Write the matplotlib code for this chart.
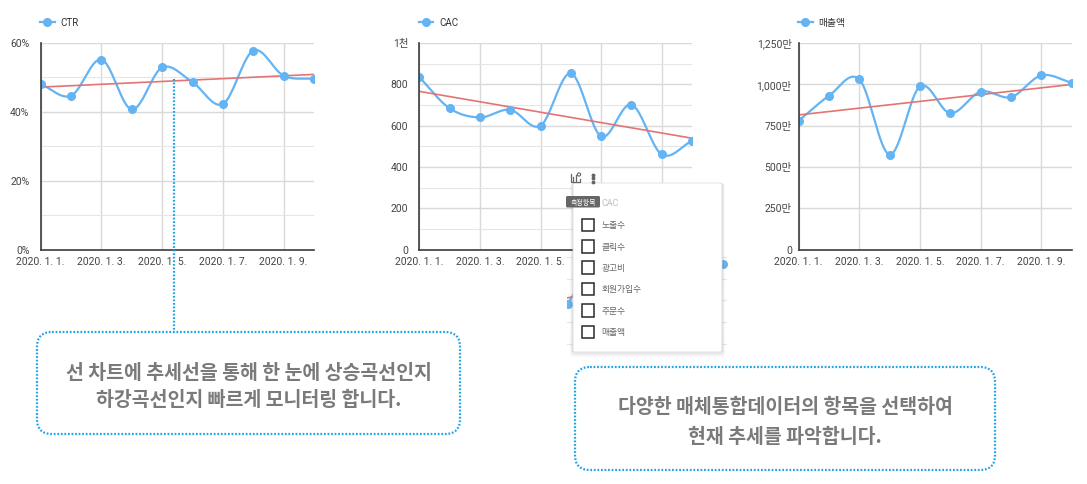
import numpy as np
import matplotlib
matplotlib.use('Agg')
import matplotlib.pyplot as plt
from matplotlib.patches import FancyBboxPatch, Rectangle, Circle
from matplotlib.lines import Line2D
from matplotlib.transforms import Affine2D
from matplotlib.ticker import FuncFormatter

W, H = 1087, 485

# ---------------- data ----------------
dates = ['2020. 1. 1.', '2020. 1. 2.', '2020. 1. 3.', '2020. 1. 4.', '2020. 1. 5.',
         '2020. 1. 6.', '2020. 1. 7.', '2020. 1. 8.', '2020. 1. 9.', '2020. 1. 10.']
ctr = [48.1, 44.7, 55.2, 40.7, 52.9, 48.6, 42.3, 57.8, 50.5, 49.6]          # %
cac = [835, 684, 640, 677, 600, 853, 548, 702, 461, 527]                    # 원
revenue = [780, 931, 1030, 575, 988, 825, 956, 923, 1054, 1010]             # 만원
metric_options = ['노출수', '클릭수', '광고비', '회원가입수', '주문수', '매출액']
callout1 = ['선 차트에 추세선을 통해 한 눈에 상승곡선인지', '하강곡선인지 빠르게 모니터링 합니다.']
callout2 = ['다양한 매체통합데이터의 항목을 선택하여', '현재 추세를 파악합니다.']

LINE_C = '#64b4f4'
TREND_C = '#e57373'
GRID_C = '#d9d9d9'
GRID_MINOR_C = '#e6e6e6'
DOT_C = '#1ea4e6'
TICK_FONT = ['Roboto', 'Noto Sans CJK KR', 'DejaVu Sans']
KR_FONT = ['Noto Sans CJK KR', 'DejaVu Sans']

fig = plt.figure(figsize=(W / 100, H / 100), dpi=100)
px = Affine2D().scale(1 / W, -1 / H).translate(0, 1) + fig.transFigure


def ax_px(l, t, r, b, **kw):
    return fig.add_axes([l / W, 1 - b / H, (r - l) / W, (b - t) / H], **kw)


def catmull(y, n=40):
    y = np.asarray(y, float)
    P = np.concatenate([[2 * y[0] - y[1]], y, [2 * y[-1] - y[-2]]])
    xs, ys = [], []
    t = np.linspace(0, 1, n, endpoint=False)
    for i in range(len(y) - 1):
        p0, p1, p2, p3 = P[i:i + 4]
        yy = 0.5 * (2 * p1 + (-p0 + p2) * t + (2 * p0 - 5 * p1 + 4 * p2 - p3) * t ** 2
                    + (-p0 + 3 * p1 - 3 * p2 + p3) * t ** 3)
        xs.append(i + t)
        ys.append(yy)
    xs.append([len(y) - 1])
    ys.append([y[-1]])
    return np.concatenate(xs), np.concatenate(ys)


def draw_chart(ax, values, name, ymax, major, minor, fmt, ypad, hidden_xlabels=()):
    x = np.arange(len(values))
    sx, sy = catmull(values)
    ax.plot(sx, sy, color=LINE_C, lw=1.6, zorder=3, solid_capstyle='round')
    ax.plot(x, values, 'o', color=LINE_C, ms=5.5, zorder=4)
    k, b = np.polyfit(x, values, 1)
    ax.plot([x[0], x[-1]], [b, k * x[-1] + b], color=TREND_C, lw=1.2, zorder=3.5)
    ax.set_xlim(0, len(values) - 1)
    ax.set_ylim(0, ymax)
    ax.set_yticks(np.arange(0, ymax + 1e-9, major))
    if minor:
        ax.set_yticks(np.arange(minor, ymax, major), minor=True)
    ax.yaxis.set_major_formatter(FuncFormatter(fmt))
    ax.set_xticks(x[::2])
    ax.set_xticklabels([dates[i] for i in x[::2]])
    ax.grid(which='major', axis='both', color=GRID_C, lw=1.0, zorder=0)
    ax.grid(which='minor', axis='y', color=GRID_MINOR_C, lw=0.8, zorder=0)
    ax.set_axisbelow(True)
    for s in ('top', 'right'):
        ax.spines[s].set_visible(False)
    for s in ('left', 'bottom'):
        ax.spines[s].set_color('#3c3c3c')
        ax.spines[s].set_linewidth(1.2)
        ax.spines[s].set_zorder(5)
    ax.tick_params(which='both', length=0, labelsize=7.5, labelcolor='#444444')
    ax.tick_params(axis='y', pad=ypad)
    ax.tick_params(axis='x', pad=4.5)
    for lab in ax.get_xticklabels() + ax.get_yticklabels():
        lab.set_family(TICK_FONT)
    for lab in ax.get_yticklabels():
        lab.set_verticalalignment('center')
    for i, lab in enumerate(ax.get_xticklabels()):
        if i in hidden_xlabels:
            lab.set_visible(False)
    h = Line2D([], [], color=LINE_C, lw=1.6, marker='o', ms=5.5)
    leg = ax.legend([h], [name], loc='lower left', bbox_to_anchor=(-0.002, 1.075),
                    frameon=False, borderpad=0, borderaxespad=0, handlelength=1.5,
                    handletextpad=0.6, prop={'family': TICK_FONT, 'size': 7})
    for t in leg.get_texts():
        t.set_color('#333333')


# ---------------- three charts ----------------
ax1 = ax_px(40.7, 44, 314, 250.7)
draw_chart(ax1, ctr, 'CTR', 60, 20, 10, lambda v, p: f'{v:.0f}%', 8)

ax2 = ax_px(419.3, 44, 692, 250.7)
# the labels for 1.7 and 1.9 lie under the popup
draw_chart(ax2, cac, 'CAC', 1000, 200, 100,
           lambda v, p: '1천' if v >= 1000 else f'{v:.0f}', 8, hidden_xlabels=(3, 4))

ax3 = ax_px(798.7, 44, 1071.7, 250.7)
draw_chart(ax3, revenue, '매출액', 1250, 250, 0,
           lambda v, p: '0' if v == 0 else f'{v:,.0f}만', 5)

# chart partially hidden behind the popup
axb = ax_px(567, 255, 727, 353)
axb.set_facecolor('none')
bx = np.arange(len(revenue))
sx, sy = catmull(revenue)
axb.plot(sx, sy, color=LINE_C, lw=1.6)
axb.plot(bx, revenue, 'o', color=LINE_C, ms=5.5)
k, b = np.polyfit(bx, revenue, 1)
axb.plot([0, 9], [b, 9 * k + b], color=TREND_C, lw=1.2)
axb.set_xlim(-0.03, 9.25)
axb.set_ylim(504, 1067)
axb.set_yticks(np.arange(550, 1067, 125))
axb.grid(axis='y', color=GRID_MINOR_C, lw=0.8)
axb.set_xticks([])
axb.tick_params(length=0, labelleft=False)
for s in axb.spines.values():
    s.set_visible(False)

# ---------------- popup ----------------
for i, a in enumerate([0.10, 0.07, 0.04]):
    fig.add_artist(FancyBboxPatch((573 - i, 184 + 1), 149 + 2 * i, 169 + 1.5 * i,
                                  boxstyle='round,pad=0,rounding_size=2',
                                  transform=px, facecolor='none',
                                  edgecolor=(0, 0, 0, a), lw=1.0, zorder=9))
fig.add_artist(FancyBboxPatch((573, 184), 149, 169, boxstyle='round,pad=0,rounding_size=2',
                              transform=px, facecolor='white', edgecolor='#dcdcdc',
                              lw=0.6, zorder=10))
# icons above popup (chart-settings icon and kebab menu)
ICON_C = '#666666'
fig.add_artist(Line2D([570.5, 570.5, 580, 580], [174.5, 183, 183, 179.5], transform=px,
                      color=ICON_C, lw=0.9, zorder=11))
fig.add_artist(Line2D([573, 573], [182, 178], transform=px, color=ICON_C, lw=0.9, zorder=11))
fig.add_artist(Line2D([575.5, 575.5], [182, 176], transform=px, color=ICON_C, lw=0.9, zorder=11))
fig.add_artist(Circle((579, 175.5), 1.6, transform=px, facecolor='none', edgecolor=ICON_C,
                      lw=0.8, zorder=11))
for yy in (175.5, 179, 182.5):
    fig.add_artist(Line2D([593], [yy], transform=px, marker='o', ms=1.8, color=ICON_C,
                          zorder=11))
# tooltip and current metric
fig.add_artist(FancyBboxPatch((566, 197), 34, 11.5, boxstyle='round,pad=0,rounding_size=1.5',
                              transform=px, facecolor='#666666', edgecolor='none', zorder=12))
fig.text(583, 202.8, '측정항목', transform=px, ha='center', va='center', color='white',
         fontsize=5, family=KR_FONT, zorder=13)
fig.text(601.5, 204, 'CAC', transform=px, ha='left', va='center', color='#bdbdbd',
         fontsize=6.5, family=TICK_FONT, zorder=13)
row_y = [226, 247.5, 268.5, 290, 311.5, 333]
for yy, lab in zip(row_y, metric_options):
    fig.add_artist(Rectangle((581.5, yy - 6.5), 12.5, 12.5, transform=px, facecolor='white',
                             edgecolor='#2a2a2a', lw=1.1, zorder=12))
    fig.text(601.5, yy, lab, transform=px, ha='left', va='center', color='#666666',
             fontsize=6.3, family=KR_FONT, zorder=13)

# ---------------- callouts ----------------
fig.add_artist(Line2D([174, 174], [80, 333], transform=px, color=DOT_C, lw=1.6,
                      linestyle=(0, (0.8, 0.8)), zorder=8))


def callout(l, t, r, b, lines, ys):
    fig.add_artist(FancyBboxPatch((l, t), r - l, b - t, boxstyle='round,pad=0,rounding_size=15',
                                  transform=px, facecolor='white', edgecolor=DOT_C, lw=1.6,
                                  linestyle=(0, (0.8, 0.8)), zorder=8))
    for s, yy in zip(lines, ys):
        fig.text((l + r) / 2, yy, s, transform=px, ha='center', va='center',
                 color='#7a7a7a', fontsize=14, fontweight='bold', family=KR_FONT, zorder=9)


callout(37, 333, 460, 435, callout1, [373, 400])
callout(575, 368, 995, 471, callout2, [407, 437])

fig.savefig('out.png', dpi=100)
